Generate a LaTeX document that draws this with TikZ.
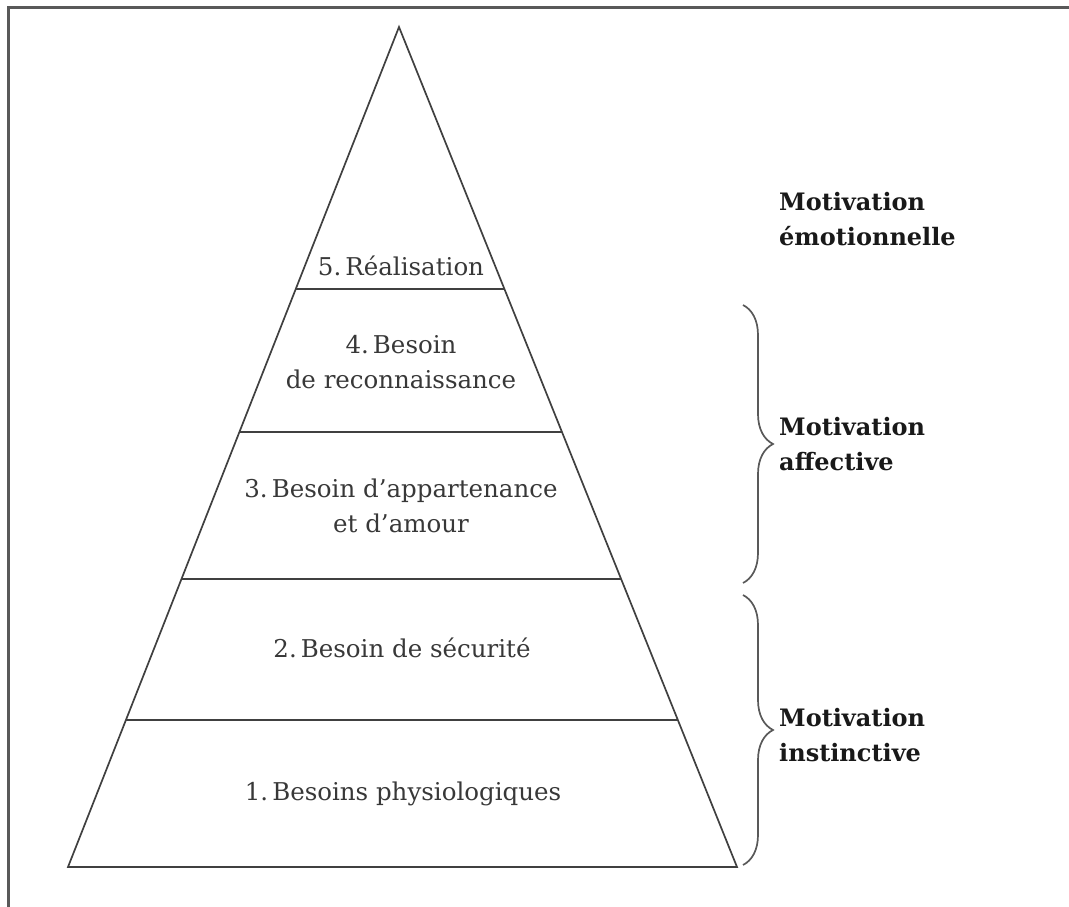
\documentclass[tikz,border=0pt]{standalone}
\usepackage{fontspec}
\setmainfont{DejaVu Serif}
\usetikzlibrary{calc,decorations.pathreplacing}
\begin{document}
\begin{tikzpicture}[x=1pt,y=-1pt,
  edge/.style={draw=black!75, line width=1.7pt},
  frame/.style={draw=black!65, line width=3pt},
  lvl/.style={font=\fontsize{24.5}{35}\selectfont, text=black!78, align=center, inner sep=0pt, anchor=base},
  mot/.style={font=\bfseries\fontsize{24}{35}\selectfont, text=black!90, align=left, anchor=base west, inner sep=0pt},
  brc/.style={draw=black!65, line width=1.7pt, decorate, decoration={brace, amplitude=30pt}}]
\useasboundingbox (0,0) rectangle (1069,907);
\draw[frame] (8,907) -- (8,8) -- (1069,8);
% pyramid
\coordinate (A) at (399,27);
\coordinate (BL) at (68,867);
\coordinate (BR) at (737,867);
\draw[edge, line join=miter] (A) -- (BL) -- (BR) -- cycle;
\foreach \t in {0.3119,0.4821,0.6571,0.825} {
  \draw[edge] ($(A)!\t!(BL)$) -- ($(A)!\t!(BR)$);
}
% level texts (base = baseline of last line)
\node[lvl] (l5) at (401,275) {5.\,Réalisation};
\node[lvl] (l4) at (401,388) {4.\,Besoin\\de reconnaissance};
\node[lvl] (l3) at (401,532) {3.\,Besoin d’appartenance\\et d’amour};
\node[lvl] (l2) at (402,657) {2.\,Besoin de sécurité};
\node[lvl] (l1) at (403,800) {1.\,Besoins physiologiques};
% motivation labels
\node[mot] (m5) at (779,245) {Motivation\\émotionnelle};
\node[mot] (m4) at (779,470) {Motivation\\affective};
\node[mot] (m3) at (779,761) {Motivation\\instinctive};
% braces
\coordinate (b1s) at (743,305);
\coordinate (b1e) at (743,583);
\coordinate (b2s) at (743,595);
\coordinate (b2e) at (743,865);
\draw[brc] (b1s) -- (b1e);
\draw[brc] (b2s) -- (b2e);
\end{tikzpicture}
\end{document}
